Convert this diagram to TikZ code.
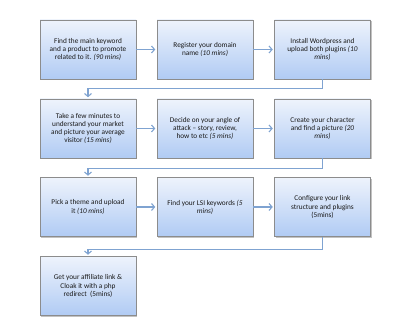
\documentclass[tikz,border=0pt]{standalone}
\usepackage{fontspec}
\setmainfont{Carlito}
\usepackage{xcolor}
\usetikzlibrary{arrows.meta,shadows}
\definecolor{boxtop}{HTML}{EEF3FC}
\definecolor{boxbottom}{HTML}{B0CBF4}
\definecolor{boxline}{HTML}{8C8C8C}
\definecolor{flowline}{HTML}{7FA3D1}
\tikzset{
  task/.style={
    draw=boxline,
    line width=0.5pt,
    top color=boxtop,
    bottom color=boxbottom,
    minimum width=96pt,
    minimum height=59pt,
    inner sep=0pt,
    align=center,
    font=\fontsize{7.3}{8.1}\selectfont,
    text=black!90,
    drop shadow={shadow xshift=1.2pt, shadow yshift=-1.2pt, fill=black!40, opacity=0.6}
  },
  flow/.style={
    -{Straight Barb[length=3pt,width=7pt]},
    line width=1.1pt,
    draw=flowline,
    shorten >=1.5pt
  }
}

\begin{document}
\begin{tikzpicture}[x=1pt,y=-1pt]
\useasboundingbox (0,0) rectangle (400,323);

% row 1
\node[task] (keyword) at (88,49.5)
  {Find the main keyword\\and a product to promote\\related to it. \textit{(90 mins)}};
\node[task] (domain) at (205,49.5)
  {Register your domain\\name \textit{(10 mins)}};
\node[task] (install) at (322.5,49.5)
  {Install Wordpress and\\upload both plugins \textit{(10}\\\textit{mins)}};

% row 2
\node[task] (market) at (88,128.5)
  {Take a few minutes to\\understand your market\\and picture your average\\visitor \textit{(15 mins)}};
\node[task] (angle) at (205,128.5)
  {Decide on your angle of\\attack -- story, review,\\how to etc \textit{(5 mins)}};
\node[task] (character) at (322.5,128.5)
  {Create your character\\and find a picture \textit{(20}\\\textit{mins)}};

% row 3
\node[task] (theme) at (88,207)
  {Pick a theme and upload\\it \textit{(10 mins)}};
\node[task] (lsi) at (205,207)
  {Find your LSI keywords \textit{(5}\\\textit{mins)}};
\node[task] (links) at (322.5,207)
  {Configure your link\\structure and plugins\\(5mins)};

% row 4
\node[task] (affiliate) at (88,286)
  {Get your affiliate link \&\\Cloak it with a php\\redirect\ \ (5mins)};

\draw[flow] (keyword.east) -- (domain.west);
\draw[flow] (domain.east) -- (install.west);
\draw[flow] (install.south) -- ++(0,9) -| (market.north);
\draw[flow] (market.east) -- (angle.west);
\draw[flow] (angle.east) -- (character.west);
\draw[flow] (character.south) -- ++(0,10) -| (theme.north);
\draw[flow] (theme.east) -- (lsi.west);
\draw[flow] (lsi.east) -- (links.west);
\draw[flow] (links.south) -- ++(0,13) -| (affiliate.north);

\end{tikzpicture}
\end{document}
